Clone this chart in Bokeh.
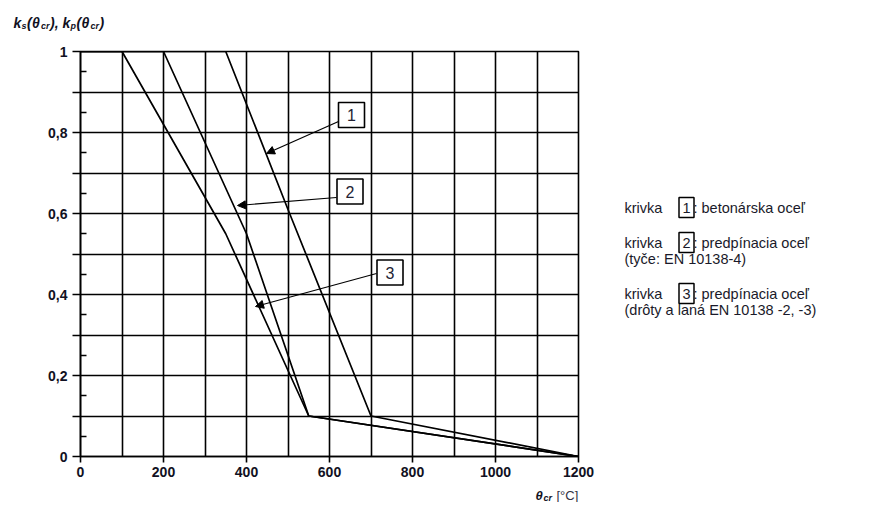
from bokeh.plotting import figure
from bokeh.layouts import column, row
from bokeh.models import Range1d, FixedTicker, Arrow, NormalHead, CustomJSTickFormatter
from bokeh.core.properties import value
from bokeh.embed import file_html
from bokeh.resources import INLINE

# ---- data (EN 1992-1-2, reduction of characteristic strength) ----
theta_1 = [0, 350, 500, 700, 1200]
k_1 = [1.0, 1.0, 0.61, 0.1, 0.0]
theta_2 = [0, 200, 400, 550, 1200]
k_2 = [1.0, 1.0, 0.55, 0.1, 0.0]
theta_3 = [0, 100, 350, 550, 1200]
k_3 = [1.0, 1.0, 0.55, 0.1, 0.0]

x_ticks = [0, 200, 400, 600, 800, 1000, 1200]
x_grid = [0, 100, 200, 300, 400, 500, 600, 700, 800, 900, 1000, 1100, 1200]
y_ticks = [0, 0.1, 0.2, 0.3, 0.4, 0.5, 0.6, 0.7, 0.8, 0.9, 1.0]
y_minor = [0.05, 0.15, 0.25, 0.35, 0.45, 0.55, 0.65, 0.75, 0.85, 0.95]

curve_ids = ["1", "2", "3"]
legend_lines = [": betonárska oceľ", ": predpínacia oceľ", ": predpínacia oceľ"]
legend_sub = ["(tyče: EN 10138-4)", "(drôty a laná EN 10138 -2, -3)"]

FONT = "Liberation Sans"
INK = "#111122"
LEG_INK = "#1a1a2a"


def blank(w, h, x0, x1, y0, y1):
    f = figure(width=w, height=h, output_backend="svg", toolbar_location=None,
               x_range=Range1d(x0, x1), y_range=Range1d(y0, y1),
               min_border=0, min_border_left=0, min_border_right=0,
               min_border_top=0, min_border_bottom=0)
    f.axis.visible = False
    f.grid.visible = False
    f.outline_line_color = None
    f.background_fill_color = "white"
    f.border_fill_color = "white"
    return f


# ---------------- main chart ----------------
p = figure(width=598, height=441, output_backend="svg", toolbar_location=None,
           x_range=Range1d(0, 1200), y_range=Range1d(0, 1),
           min_border_left=80, min_border_right=20, min_border_top=10, min_border_bottom=26)
p.background_fill_color = "white"
p.border_fill_color = "white"
p.outline_line_color = "black"
p.outline_line_width = 1.6

p.xgrid.ticker = FixedTicker(ticks=x_grid)
p.ygrid.ticker = FixedTicker(ticks=y_ticks)
for g in (p.xgrid, p.ygrid):
    g.grid_line_color = "black"
    g.grid_line_width = 1.6
    g.grid_line_alpha = 1.0

xa = p.xaxis[0]
xa.ticker = FixedTicker(ticks=x_ticks, minor_ticks=[])
xa.major_tick_out = 6
xa.major_tick_in = 0
xa.minor_tick_out = 0
xa.minor_tick_in = 0
xa.major_label_standoff = 4
ya = p.yaxis[0]
ya.ticker = FixedTicker(ticks=y_ticks, minor_ticks=y_minor)
ya.formatter = CustomJSTickFormatter(code="""
const r = Math.round(tick*10);
if (r % 2 != 0) return "";
if (r == 0) return "0";
if (r == 10) return "1";
return (r/10).toString().replace(".", ",");
""")
ya.major_tick_out = 8
ya.major_tick_in = 0
ya.minor_tick_in = 6
ya.minor_tick_out = 0
ya.major_label_standoff = 5
for a in (xa, ya):
    a.axis_line_color = "black"
    a.axis_line_width = 1.6
    a.major_tick_line_color = "black"
    a.major_tick_line_width = 1.6
    a.minor_tick_line_color = "black"
    a.minor_tick_line_width = 1.6
    a.major_label_text_font = FONT
    a.major_label_text_font_style = "bold"
    a.major_label_text_font_size = "14px"
    a.major_label_text_color = INK

for xs, ys in ((theta_1, k_1), (theta_2, k_2), (theta_3, k_3)):
    p.line(xs, ys, line_color="black", line_width=1.7)


def px(xp):
    return (xp - 80) * 1200 / 498


def py(yp):
    return (456 - yp) / 405


arrows = [((338, 121), (266, 153)), ((336, 197), (237, 205)), ((376, 273), (255, 306))]
for (s, e) in arrows:
    p.add_layout(Arrow(x_start=px(s[0]), y_start=py(s[1]), x_end=px(e[0]), y_end=py(e[1]),
                       line_color="black", line_width=1.1,
                       end=NormalHead(size=8, fill_color="black", line_color="black", line_width=1)))

box_centers = [(351, 114.5), (349.5, 191), (389.5, 272)]
bx = [px(c[0]) for c in box_centers]
by = [py(c[1]) for c in box_centers]
p.rect(bx, by, width=26, height=25, width_units="screen", height_units="screen",
       fill_color="white", line_color="black", line_width=1.6)
p.text(bx, by, text=curve_ids, text_align="center", text_baseline="middle",
       text_font=value(FONT), text_font_size="16px", text_color="#222233")

# ---------------- top strip: y-axis title (page px coords) ----------------
pt = blank(866, 41, 0, 866, 41, 0)
main_parts = [("k", 13), ("(", 26.5), ("θ", 31.5), ("),", 49.5), ("k", 62), ("(", 76), ("θ", 81), (")", 99)]
sub_parts = [("s", 21), ("cr", 40.5), ("p", 70), ("cr", 90)]
pt.text([m[1] for m in main_parts], [22] * len(main_parts), text=[m[0] for m in main_parts],
        text_font=value(FONT), text_font_style="bold italic", text_font_size="14px",
        text_color=INK, text_baseline="alphabetic")
pt.text([s[1] for s in sub_parts], [25] * len(sub_parts), text=[s[0] for s in sub_parts],
        text_font=value(FONT), text_font_style="bold italic", text_font_size="9px",
        text_color=INK, text_baseline="alphabetic")

# ---------------- right panel: legend, aligned with the chart's vertical scale ----------------
pl = figure(width=268, height=441, output_backend="svg", toolbar_location=None,
            x_range=Range1d(598, 866), y_range=p.y_range,
            min_border_left=0, min_border_right=0, min_border_top=10, min_border_bottom=26)
pl.axis.visible = False
pl.grid.visible = False
pl.outline_line_color = None
pl.background_fill_color = "white"
pl.border_fill_color = "white"

row_y = [py(207), py(242), py(293)]
sub_y = [py(258), py(309)]
LEG_SIZE = "14.5px"
pl.text([624] * 3, row_y, text=["krivka"] * 3, text_font=value(FONT), text_font_size=LEG_SIZE,
        text_color=LEG_INK, text_baseline="middle")
pl.rect([686] * 3, row_y, width=15, height=20, width_units="screen", height_units="screen",
        fill_color="white", line_color="black", line_width=1.5)
pl.text([686] * 3, row_y, text=curve_ids, text_font=value(FONT), text_font_size=LEG_SIZE,
        text_color=LEG_INK, text_baseline="middle", text_align="center")
pl.text([693] * 3, row_y, text=legend_lines, text_font=value(FONT), text_font_size=LEG_SIZE,
        text_color=LEG_INK, text_baseline="middle")
pl.text([624] * 2, sub_y, text=legend_sub, text_font=value(FONT),
        text_font_size=LEG_SIZE, text_color=LEG_INK, text_baseline="middle")

# ---------------- bottom strip: x-axis title (page px coords) ----------------
pb = blank(866, 20, 0, 866, 502, 482)
pb.text([535], [495], text=["θ"], text_font=value(FONT), text_font_style="bold italic",
        text_font_size="13px", text_color=INK, text_baseline="alphabetic")
pb.text([543], [497.5], text=["cr"], text_font=value(FONT), text_font_style="bold italic",
        text_font_size="9px", text_color=INK, text_baseline="alphabetic")
pb.text([556], [495], text=["[°C]"], text_font=value(FONT), text_font_size="13px",
        text_color="#333344", text_baseline="alphabetic")

layout = column(pt, row(p, pl), pb)
open("out.html", "w").write(file_html(layout, INLINE))
